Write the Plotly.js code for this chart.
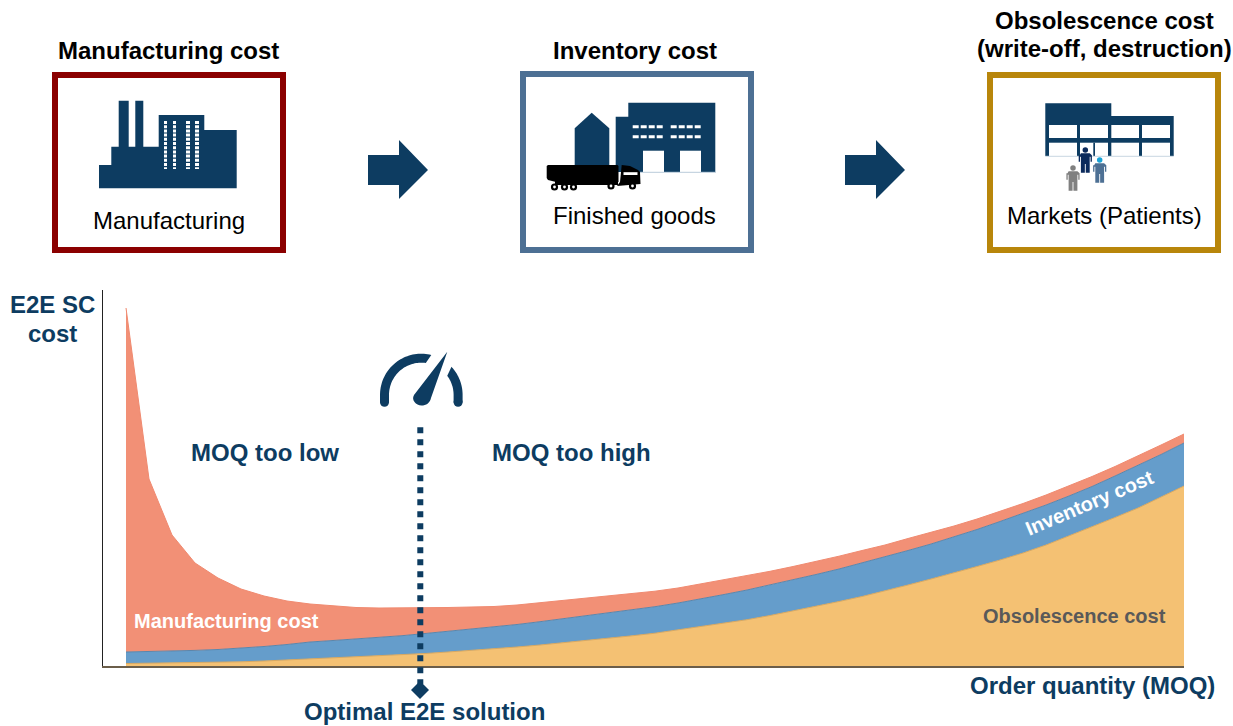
<!DOCTYPE html>
<html>
<head>
<meta charset="utf-8">
<script src="https://cdn.plot.ly/plotly-3.0.1.min.js"></script>
<style>html,body{margin:0;padding:0;background:#fff}#c{width:1233px;height:726px}</style>
</head>
<body>
<div id="c"></div>
<script>
const orderQuantity = [0,1,2,3,4,5,6,7,8,9,10,11,12,13,14,15,16,17,18,19,20,21,22,23,24,25,26,27,28,29,30,31,32,33,34,35,36,37,38,39,40,41,42,43,44,45,46];
const obsolescenceCost = [2.5,2.7,3,3.3,3.7,4.2,5,6,7,8,9,10,11,12.5,14,15.5,17,19,21,23.2,25.5,27.8,30.2,32.8,36,39.5,43,46.3,50.5,55,59.5,64.5,69.5,75,81,87,93,99.5,106,113,121,130,139,148.5,158,169,180];
const inventoryCost = [11.5,11.7,12,12.3,12.8,13.5,14.5,15.5,17,17.5,18,18.7,19.3,20,20.6,21.2,21.8,22.5,23.3,24,25,25.5,26,26.5,27,27.5,28.5,29.7,30.5,31.3,32,32.5,33.5,34,34.5,35,36,37,38.5,39.5,40,40,40.5,41.5,42.5,42.5,43];
const manufacturingCost = [344,172.6,116,87.4,71.5,59.3,50.5,43.5,38,34.5,31.5,29.3,27.7,25.5,23.9,22.3,20.7,19.5,19,18,17,16.5,16,15.5,15,15,14.5,14,13.7,13.2,13,12.8,12.5,12,12,11.5,11,10.5,10,10,10,10,10,9.5,9.5,9.5,9];

const W = 1233, H = 726;
const NAVY = '#0D3C61', RED = '#8B0000', STEEL = '#4D7094', GOLD = '#B8860B';
const px = x => (x / W).toFixed(5), py = y => (1 - y / H).toFixed(5);
const shapes = [];
const poly = (pts, color) => shapes.push({type:'path', xref:'paper', yref:'paper', fillcolor:color, line:{width:0},
  path:'M' + pts.map(p => px(p[0]) + ' ' + py(p[1])).join(' L') + ' Z'});
const rect = (x0,y0,x1,y1,color) => poly([[x0,y0],[x1,y0],[x1,y1],[x0,y1]], color);
const box = (x0,y0,x1,y1,color) => shapes.push({type:'rect', xref:'paper', yref:'paper', x0:x0/W, x1:x1/W, y0:1-y1/H, y1:1-y0/H, fillcolor:'rgba(0,0,0,0)', line:{color:color,width:6}});
const seg = (x0,y0,x1,y1,color,width,dash) => shapes.push({type:'line', xref:'paper', yref:'paper', x0:x0/W, x1:x1/W, y0:1-y0/H, y1:1-y1/H, line:{color:color,width:width,dash:dash||'solid'}});
const circle = (cx,cy,r,color) => shapes.push({type:'circle', xref:'paper', yref:'paper', x0:(cx-r)/W, x1:(cx+r)/W, y0:1-(cy+r)/H, y1:1-(cy-r)/H, fillcolor:color, line:{width:0}});
const arc = (cx,cy,ro,ri,a0,a1o,a1i,color) => {
  const pts = [], n = 40, rad = Math.PI/180;
  for (let i=0;i<=n;i++){const a=(a0+(a1o-a0)*i/n)*rad; pts.push([cx+ro*Math.cos(a), cy-ro*Math.sin(a)]);}
  for (let i=n;i>=0;i--){const a=(a0+(a1i-a0)*i/n)*rad; pts.push([cx+ri*Math.cos(a), cy-ri*Math.sin(a)]);}
  poly(pts,color);
};
const person = (cx,top,h,bodyColor,headColor) => {
  const s = h/20;
  circle(cx, top+2.3*s, 2.5*s, headColor);
  poly([[cx-5*s,top+7*s],[cx-4*s,top+5.2*s],[cx+4*s,top+5.2*s],[cx+6*s,top+7*s],[cx+6*s,top+13*s],[cx+4.8*s,top+13*s],[cx+4.8*s,top+8.5*s],[cx+4*s,top+8.5*s],[cx+4*s,top+23*s],[cx+.4*s,top+23*s],[cx+.4*s,top+15*s],[cx-.4*s,top+15*s],[cx-.4*s,top+23*s],[cx-4*s,top+23*s],[cx-4*s,top+8.5*s],[cx-4.8*s,top+8.5*s],[cx-4.8*s,top+13*s],[cx-6*s,top+13*s],[cx-6*s,top+7*s]],bodyColor);
};

// Boxes
box(55,75,283,250,RED);
box(523,74,751,250,STEEL);
box(990,75,1218,250,GOLD);

// Factory
poly([[99,188.3],[99,165],[111.3,165],[111.3,146.7],[118.7,146.7],[118.7,100.7],[128.7,100.7],[128.7,146.7],[135.3,146.7],[135.3,100.7],[143.3,100.7],[143.3,146.7],[158.7,146.7],[158.7,115],[204.3,115],[204.3,130],[236.7,130],[236.7,188.3]],NAVY);
[[165.5,3],[174.5,3],[188,4],[197,4]].forEach(c => seg(c[0],121,c[0],169,'#fff',c[1],'3px,1.2px'));

// Warehouse
poly([[574.7,165],[574.7,128.3],[591.7,112.7],[609.3,128.3],[609.3,165]],NAVY);
poly([[615.7,172],[615.7,116.7],[628.3,116.7],[628.3,102.7],[715.3,102.7],[715.3,172]],NAVY);
rect(643,150.7,664,172,'#fff'); rect(680,150.7,701,172,'#fff');
seg(640,172.3,716,172.3,'#B9CBDA',1);
[126.7,136.7].forEach(y => { seg(632.7,y,663.3,y,'#fff',3,'6px,2px'); seg(670.7,y,701.7,y,'#fff',3,'6px,2px'); });
// Truck
poly([[548,165],[617.5,165],[618.5,166],[618.5,182],[556,182],[548,180],[546.7,178],[546.7,166]],'#000');
poly([[621.7,165],[630,166],[638,170],[640,172],[640.5,184],[617,186],[620,182]],'#000');
rect(555,181,618,185,'#000');
rect(623.5,172.2,637.5,175,'#fff');
[[554.5,187],[564.5,187],[573.5,187],[611,186],[632.5,186]].forEach(w => { circle(w[0],w[1],3.6,'#000'); circle(w[0],w[1],1.4,'#fff'); });

// Market building
poly([[1045.3,103.3],[1111.3,103.3],[1111.3,116],[1173.7,116],[1173.7,156],[1045.3,156]],NAVY);
[[1049,1077],[1080,1108],[1111.3,1139],[1142,1170]].forEach(c => { rect(c[0],125,c[1],138,'#fff'); rect(c[0],142.7,c[1],156,'#fff'); });
rect(1093.3,142.7,1095,156,NAVY);
seg(1045.3,156.3,1173.7,156.3,'#C9D6E2',1);
person(1099.7,157.5,22,'#4D7094','#1AA3D6');
person(1073,165.5,22,'#808080','#808080');
person(1085.3,147.5,22,'#0B2A5C','#0B2A5C');

// Arrows
[368,845].forEach(x => poly([[x,155],[x+31,155],[x+31,140],[x+60,170],[x+31,199],[x+31,185],[x,185]],NAVY));

// Gauge
arc(421.3,395,41.3,32.3,180,76,82,NAVY);
arc(421.3,395,41.3,32.3,0,43,36.5,NAVY);
rect(380,395,389,402.2,NAVY); rect(453.6,395,462.6,402.2,NAVY);
circle(384.5,402.2,4.5,NAVY); circle(458.1,402.2,4.5,NAVY);
shapes.push({type:'path', xref:'paper', yref:'paper', fillcolor:NAVY, line:{width:0},
  path:`M${px(447.3)} ${py(351.7)} L${px(414)} ${py(395)} C${px(411)} ${py(400)} ${px(416)} ${py(405.5)} ${px(421.5)} ${py(405.5)} C${px(426)} ${py(405.5)} ${px(430)} ${py(403)} ${px(431)} ${py(398)} Z`});

// Optimal marker
seg(420.3,427.3,420.3,684,NAVY,6,'6px,6px');
poly([[420,681],[429,690],[420,699],[411,690]],NAVY);

const T = (text,cx,cy,size,color,bold,angle) => ({xref:'paper', yref:'paper', x:cx/W, y:1-cy/H, xanchor:'center', yanchor:'middle', showarrow:false, align:'center', textangle:angle||0,
  text: bold ? '<b>'+text+'</b>' : text, font:{family:'"Liberation Sans", Arial, sans-serif', size:size, color:color}});
const annotations = [
  T('Manufacturing cost',168,51,24,'#000',true),
  T('Inventory cost',635,51,24,'#000',true),
  T('Obsolescence cost',1104,20,24,'#000',true),
  T('(write-off, destruction)',1104,49,24,'#000',true),
  T('Manufacturing',169,220.5,24,'#000',false),
  T('Finished goods',634,215.5,24,'#000',false),
  T('Markets (Patients)',1104,215.5,24,'#000',false),
  T('E2E SC',52,304.5,24,NAVY,true),
  T('cost',52,333.5,24,NAVY,true),
  T('MOQ too low',265,452.5,24,NAVY,true),
  T('MOQ too high',571.5,452.5,24,NAVY,true),
  T('Manufacturing cost',227,621,20,'#fff',true),
  T('Obsolescence cost',1074.5,616,20,'#595959',true),
  T('Inventory cost',1089,503,20,'#fff',true,-23),
  T('Optimal E2E solution',424.5,711,24,NAVY,true),
  T('Order quantity (MOQ)',1092.5,685,24,NAVY,true)
];

const area = (name,y,fill,line) => ({type:'scatter', mode:'lines', name:name, x:orderQuantity, y:y, stackgroup:'cost', fillcolor:fill, line:{color:line,width:1}, hoverinfo:'name+y'});
const traces = [
  area('Obsolescence cost',obsolescenceCost,'#F4C173','#D9A85F'),
  area('Inventory cost',inventoryCost,'#659DCB','#5A86AC'),
  area('Manufacturing cost',manufacturingCost,'#F29076','#F08A70')
];
Plotly.newPlot('c',traces,{
  width:W,height:H,margin:{l:0,r:0,t:0,b:0},paper_bgcolor:'#fff',plot_bgcolor:'#fff',showlegend:false,
  xaxis:{domain:[103/W,1184/W],range:[-1,46],showgrid:false,zeroline:false,showticklabels:false,ticks:'',showline:true,linecolor:'#6B5E4A',linewidth:1.5},
  yaxis:{domain:[60/H,436/H],range:[0,376],showgrid:false,zeroline:false,showticklabels:false,ticks:'',showline:true,linecolor:'#222',linewidth:1.5},
  shapes:shapes,annotations:annotations
},{staticPlot:true,displayModeBar:false});
</script>
</body>
</html>
